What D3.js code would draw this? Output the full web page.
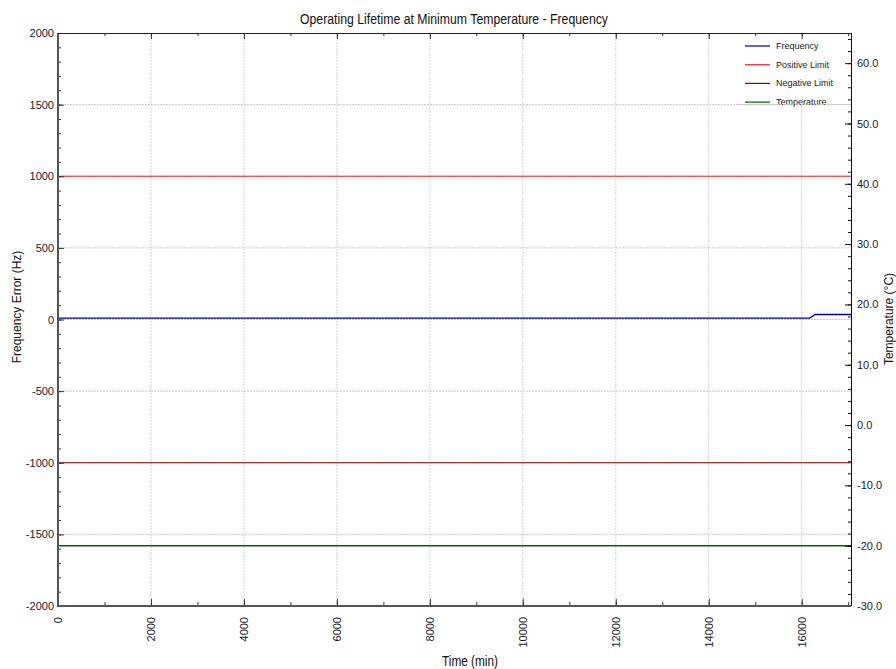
<!DOCTYPE html>
<html><head><meta charset="utf-8">
<script src="https://cdn.jsdelivr.net/npm/d3@7"></script>
<style>
body{margin:0;background:#fff;}
svg{display:block;}
text{font-family:"Liberation Sans",Arial,sans-serif;}
</style></head><body>
<svg id="c" width="896" height="669"></svg>
<script>
// ---- data ----
const timeDomain = [0, 17060];
const freqDomain = [-2000, 2000];
const tempDomain = [-30, 65];
const freqTime = [0, 16170, 16290, 17060];
const freqValues = [10, 10, 35, 35];
const posLimitTime = [0, 17060];
const posLimitValues = [1000, 1000];
const negLimitTime = [0, 17060];
const negLimitValues = [-1000, -1000];
const tempTime = [0, 17060];
const tempValues = [-20, -20];
const xTicks = [0, 2000, 4000, 6000, 8000, 10000, 12000, 14000, 16000];
const yTicks = [-2000, -1500, -1000, -500, 0, 500, 1000, 1500, 2000];
const tTicks = [-30, -20, -10, 0, 10, 20, 30, 40, 50, 60];
const legendNames = ["Frequency", "Positive Limit", "Negative Limit", "Temperature"];
const legendColors = ["#0000a0", "#ff2020", "#8b0000", "#006400"];

// ---- layout ----
const svg = d3.select("#c");
const L = 58, R = 851, T = 33, B = 606;
const x = d3.scaleLinear().domain(timeDomain).range([L, R]);
const y = d3.scaleLinear().domain(freqDomain).range([B, T]);
const yt = d3.scaleLinear().domain(tempDomain).range([B, T]);
const hyph = f => d => f(d).replace("\u2212", "-");

// grid
const grid = svg.append("g");
grid.selectAll("line.v").data(xTicks.filter(d => d > 0)).join("line")
  .attr("x1", d => x(d)).attr("x2", d => x(d)).attr("y1", T).attr("y2", B)
  .attr("stroke", "#d4d4d4").attr("stroke-width", 1).attr("stroke-dasharray", "2,1");
grid.selectAll("line.h").data(yTicks.filter(d => d > -2000 && d < 2000)).join("line")
  .attr("x1", L).attr("x2", R).attr("y1", d => y(d)).attr("y2", d => y(d))
  .attr("stroke", "#c8c8c8").attr("stroke-width", 1).attr("stroke-dasharray", "2,1");

// series
const line = (xs, vs, sy) => d3.line().x((d, i) => x(xs[i])).y(d => sy(d))(vs);
svg.append("path").attr("d", line(posLimitTime, posLimitValues, y)).attr("fill", "none").attr("stroke", legendColors[1]).attr("stroke-width", 1.2);
svg.append("path").attr("d", line(negLimitTime, negLimitValues, y)).attr("fill", "none").attr("stroke", legendColors[2]).attr("stroke-width", 1.2);
svg.append("path").attr("d", line(tempTime, tempValues, yt)).attr("fill", "none").attr("stroke", legendColors[3]).attr("stroke-width", 1.5);
svg.append("path").attr("d", line(freqTime, freqValues, y)).attr("fill", "none").attr("stroke", legendColors[0]).attr("stroke-width", 1.3);

// legend
const lg = svg.append("g");
lg.append("rect").attr("x", 738).attr("y", 37).attr("width", 110).attr("height", 66).attr("fill", "#fff");
legendNames.forEach((n, i) => {
  const yy = 46 + i * 18.7;
  lg.append("line").attr("x1", 745).attr("x2", 770).attr("y1", yy).attr("y2", yy).attr("stroke", legendColors[i]).attr("stroke-width", 1.2);
  lg.append("text").attr("x", 776).attr("y", yy + 3).attr("font-size", 9).attr("fill", "#222").text(n);
});
svg.append("line").attr("x1", 738).attr("x2", R).attr("y1", y(1500)).attr("y2", y(1500))
  .attr("stroke", "#c8c8c8").attr("stroke-dasharray", "2,1");

// axes
function style(g, col) {
  g.select(".domain").remove();
  g.selectAll("line").attr("stroke", col);
  g.selectAll("text").attr("fill", "#1a1a2a").attr("font-size", 11);
}
const minorX = d3.range(0, 17001, 1000);
const minorY = d3.range(-2000, 2001, 100);
const minorT = d3.range(-30, 65, 2);

svg.append("g").attr("transform", `translate(${L},0)`)
  .call(d3.axisLeft(y).tickValues(minorY).tickSize(-3).tickFormat(""))
  .call(g => style(g, "#333"));
svg.append("g").attr("transform", `translate(${L},0)`)
  .call(d3.axisLeft(y).tickValues(yTicks).tickSizeInner(-6).tickSizeOuter(0).tickPadding(4).tickFormat(hyph(d3.format("d"))))
  .call(g => style(g, "#333"));
svg.append("g").attr("transform", `translate(0,${B})`)
  .call(d3.axisBottom(x).tickValues(minorX).tickSize(-4).tickFormat(""))
  .call(g => style(g, "#333"));
const xb = svg.append("g").attr("transform", `translate(0,${B})`)
  .call(d3.axisBottom(x).tickValues(xTicks).tickSizeInner(-7).tickSizeOuter(0).tickFormat(d3.format("d")))
  .call(g => style(g, "#333"));
xb.selectAll("text").attr("transform", "rotate(-90)").attr("text-anchor", "end")
  .attr("x", -11).attr("y", 0).attr("dy", "0.35em");
svg.append("g").attr("transform", `translate(0,${T})`)
  .call(d3.axisTop(x).tickValues(minorX).tickSize(-3).tickFormat(""))
  .call(g => style(g, "#333"));
svg.append("g").attr("transform", `translate(0,${T})`)
  .call(d3.axisTop(x).tickValues(xTicks).tickSize(-6).tickFormat(""))
  .call(g => style(g, "#333"));
svg.append("g").attr("transform", `translate(${R},0)`)
  .call(d3.axisRight(yt).tickValues(minorT).tickSize(-3).tickFormat(""))
  .call(g => style(g, "#111"));
svg.append("g").attr("transform", `translate(${R},0)`)
  .call(d3.axisRight(yt).tickValues(tTicks).tickSizeInner(-6).tickSizeOuter(0).tickPadding(6).tickFormat(hyph(d3.format(".1f"))))
  .call(g => style(g, "#111"));

// frame lines
svg.append("line").attr("x1", L).attr("x2", L).attr("y1", T).attr("y2", B + 1).attr("stroke", "#555").attr("stroke-width", 2);
svg.append("line").attr("x1", L).attr("x2", R).attr("y1", B).attr("y2", B).attr("stroke", "#555").attr("stroke-width", 2);
svg.append("line").attr("x1", L).attr("x2", R).attr("y1", T + 0.5).attr("y2", T + 0.5).attr("stroke", "#222");
svg.append("line").attr("x1", R + 0.5).attr("x2", R + 0.5).attr("y1", T).attr("y2", B).attr("stroke", "#111");

// titles
svg.append("text").attr("x", 454).attr("y", 24).attr("text-anchor", "middle")
  .attr("font-size", 14).attr("textLength", 308).attr("lengthAdjust", "spacingAndGlyphs")
  .attr("fill", "#111").text("Operating Lifetime at Minimum Temperature - Frequency");
svg.append("text").attr("x", 470).attr("y", 666).attr("text-anchor", "middle")
  .attr("font-size", 14).attr("textLength", 56).attr("lengthAdjust", "spacingAndGlyphs")
  .attr("fill", "#111").text("Time (min)");
svg.append("text").attr("transform", "translate(21,307) rotate(-90)").attr("text-anchor", "middle")
  .attr("font-size", 12).attr("fill", "#111").text("Frequency Error (Hz)");
svg.append("text").attr("transform", "translate(893,319) rotate(-90)").attr("text-anchor", "middle")
  .attr("font-size", 12).attr("fill", "#111").text("Temperature (°C)");
</script></body></html>
